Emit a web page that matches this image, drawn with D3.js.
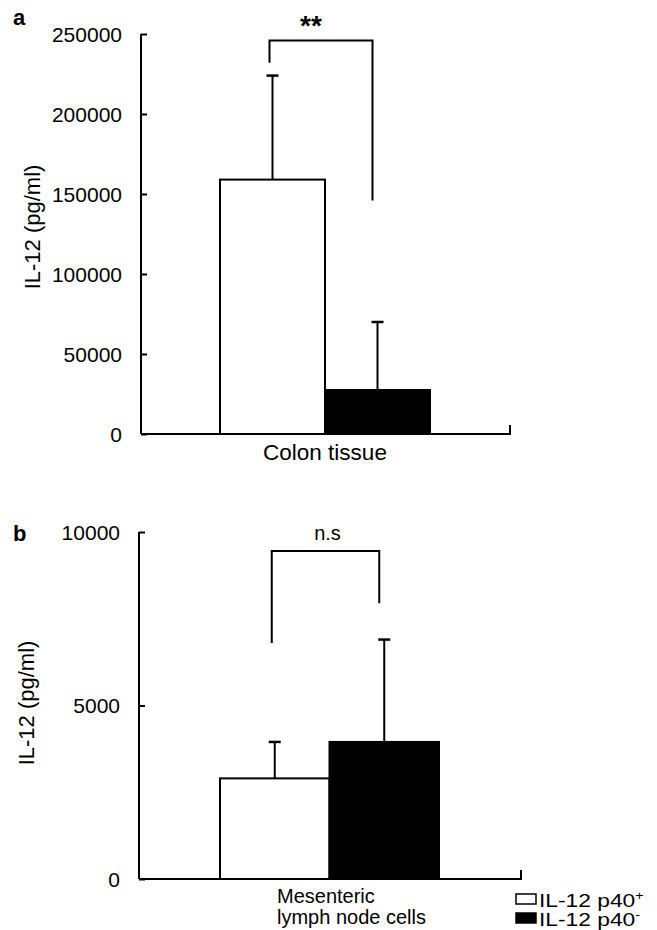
<!DOCTYPE html>
<html>
<head>
<meta charset="utf-8">
<script src="https://cdn.jsdelivr.net/npm/d3@7"></script>
<style>
  body { margin: 0; background: #fff; }
  text { font-family: "Liberation Sans", Arial, sans-serif; fill: #000; }
</style>
</head>
<body>
<svg id="chart" width="657" height="930"></svg>
<script>
// values
var groups = ["IL-12 p40+", "IL-12 p40-"];
var fills = ["#fff", "#000"];

var colonMean = [159000, 27500];
var colonSD = [65000, 42500];
var colonTicks = [0, 50000, 100000, 150000, 200000, 250000];
var colonBracket = { top: 246000, left: 232000, right: 146000, mark: "**" };

var mlnMean = [2900, 3950];
var mlnSD = [1050, 2950];
var mlnTicks = [0, 5000, 10000];
var mlnBracket = { top: 9450, left: 6800, right: 7950, mark: "n.s" };

var svg = d3.select("#chart");

function drawPanel(opt) {
  var g = svg.append("g");
  var x = d3.scaleBand().domain(groups).range(opt.barRange).padding(0);
  var y = d3.scaleLinear().domain(opt.domain).range(opt.yRange);

  // bars
  g.selectAll("rect.bar")
    .data(groups)
    .enter().append("rect")
      .attr("class", "bar")
      .attr("x", function(d) { return x(d); })
      .attr("width", x.bandwidth())
      .attr("y", function(d, i) { return y(opt.mean[i]); })
      .attr("height", function(d, i) { return y(0) - y(opt.mean[i]); })
      .style("fill", function(d, i) { return fills[i]; })
      .style("stroke", "#000")
      .style("stroke-width", 2);

  // error bars (upper only)
  groups.forEach(function(d, i) {
    var cx = x(d) + x.bandwidth() / 2;
    var top = y(opt.mean[i] + opt.sd[i]);
    g.append("line")
      .attr("x1", cx).attr("x2", cx)
      .attr("y1", y(opt.mean[i])).attr("y2", top)
      .style("stroke", "#000").style("stroke-width", 2);
    g.append("line")
      .attr("x1", cx - 6).attr("x2", cx + 6)
      .attr("y1", top).attr("y2", top)
      .style("stroke", "#000").style("stroke-width", 2.5);
  });

  // y axis, ticks point inward
  var yAxis = d3.axisRight(y).tickValues(opt.ticks).tickSize(6).tickFormat("");
  var ya = g.append("g")
    .attr("transform", "translate(" + opt.axisX + ",0)")
    .call(yAxis);
  ya.select(".domain").remove();
  ya.selectAll("line").style("stroke", "#000").style("stroke-width", 2);
  g.append("line")
    .attr("x1", opt.axisX).attr("x2", opt.axisX)
    .attr("y1", y(opt.domain[1])).attr("y2", y(0))
    .style("stroke", "#000").style("stroke-width", 2);

  g.selectAll("text.tick")
    .data(opt.ticks)
    .enter().append("text")
      .attr("class", "tick")
      .attr("x", opt.axisX - 19)
      .attr("y", function(d) { return y(d); })
      .attr("dy", "0.36em")
      .attr("text-anchor", "end")
      .style("font-size", "21px")
      .text(function(d) { return d; });

  // x axis
  g.append("path")
    .attr("d", "M" + opt.axisX + "," + y(0) + "H" + opt.axisEnd + "V" + (y(0) - 9))
    .style("fill", "none").style("stroke", "#000").style("stroke-width", 2);

  // y label
  g.append("text")
    .attr("transform", "translate(" + opt.labelX + "," + opt.labelY + ") rotate(-90)")
    .attr("text-anchor", "middle")
    .style("font-size", "22px")
    .text("IL-12 (pg/ml)");

  // panel letter
  g.append("text")
    .attr("x", 13).attr("y", opt.letterY)
    .style("font-size", "22px").style("font-weight", "bold")
    .text(opt.letter);

  // significance bracket
  var b = opt.bracket;
  var lx = x(groups[0]) + x.bandwidth() / 2 - 3;
  var rx = x(groups[1]) + x.bandwidth() / 2 - 5;
  g.append("path")
    .attr("d", "M" + lx + "," + y(b.left) + "V" + y(b.top) + "H" + rx + "V" + y(b.right))
    .style("fill", "none").style("stroke", "#000").style("stroke-width", 2);
  g.append("text")
    .attr("x", (lx + rx) / 2 + opt.markDx)
    .attr("y", y(b.top) - opt.markGap)
    .attr("text-anchor", "middle")
    .style("font-size", opt.markSize)
    .style("font-weight", opt.markWeight)
    .text(b.mark);

  return { x: x, y: y, g: g };
}

var pa = drawPanel({
  letter: "a", letterY: 25,
  mean: colonMean, sd: colonSD, ticks: colonTicks,
  domain: [0, 250000], yRange: [434, 34],
  barRange: [220, 430], axisX: 141, axisEnd: 510,
  labelX: 40, labelY: 227,
  bracket: colonBracket, markDx: -10, markGap: 5, markSize: "28px", markWeight: "bold"
});

pa.g.append("text")
  .attr("x", 325).attr("y", 460)
  .attr("text-anchor", "middle")
  .style("font-size", "22.5px")
  .text("Colon tissue");

var pb = drawPanel({
  letter: "b", letterY: 541,
  mean: mlnMean, sd: mlnSD, ticks: mlnTicks,
  domain: [0, 10000], yRange: [879, 532],
  barRange: [220, 439], axisX: 139, axisEnd: 521,
  labelX: 34, labelY: 703,
  bracket: mlnBracket, markDx: 2, markGap: 11, markSize: "20px", markWeight: "normal"
});

var mlnLabel = pb.g.append("text")
  .attr("x", 277).attr("y", 903)
  .style("font-size", "20px");
mlnLabel.append("tspan").attr("x", 277).text("Mesenteric");
mlnLabel.append("tspan").attr("x", 277).attr("dy", 21).text("lymph node cells");

// legend
var legend = svg.append("g").attr("transform", "translate(515,893)");
var sup = ["+", "-"];
groups.forEach(function(d, i) {
  var row = legend.append("g").attr("transform", "translate(0," + (i * 19) + ")");
  row.append("rect")
    .attr("x", 1).attr("y", 1).attr("width", 20).attr("height", 10)
    .style("fill", fills[i]).style("stroke", "#000").style("stroke-width", 1.5);
  var t = row.append("text")
    .attr("transform", "translate(24,14) scale(1.2,1)")
    .style("font-size", "19px");
  t.append("tspan").text(d.slice(0, -1));
  t.append("tspan").attr("dy", -7).style("font-size", "12px").text(sup[i]);
});
</script>
</body>
</html>
